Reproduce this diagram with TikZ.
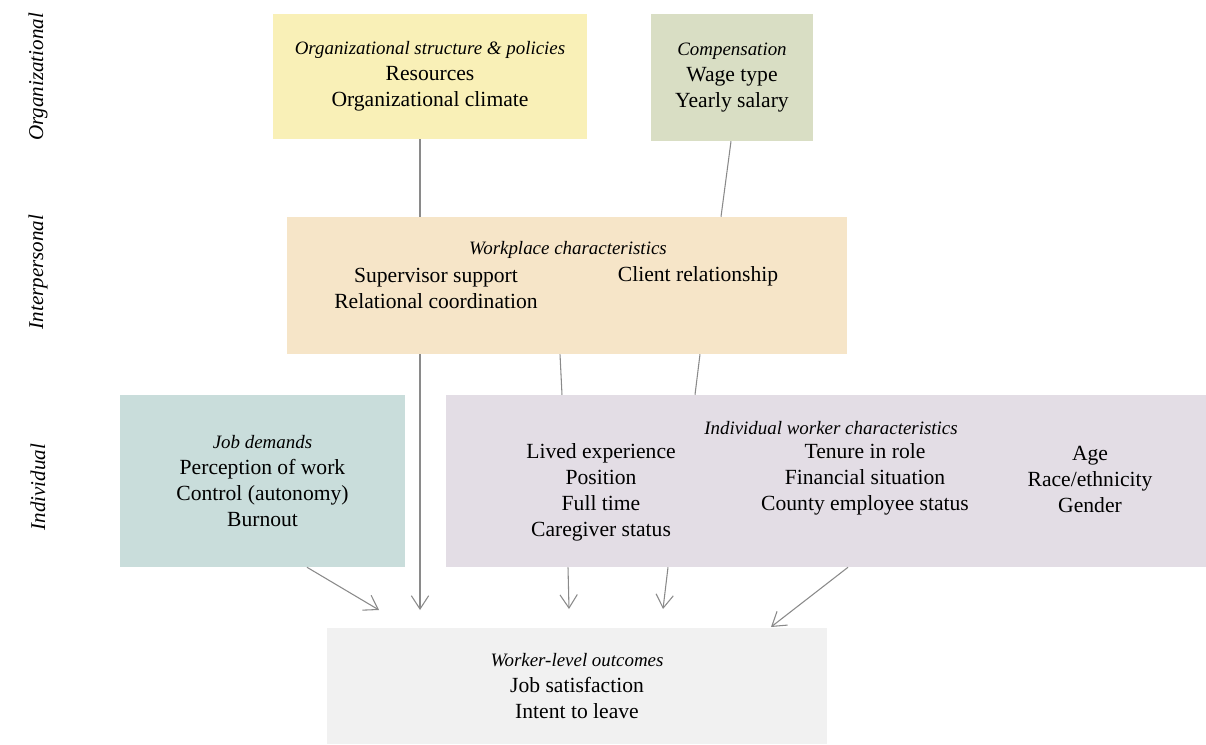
\documentclass[tikz,border=0pt]{standalone}
\usepackage{fontspec}
\setmainfont{Liberation Serif}
\usetikzlibrary{arrows.meta}

\definecolor{orgyellow}{HTML}{F9F0B7}
\definecolor{compgreen}{HTML}{D9DEC4}
\definecolor{workpeach}{HTML}{F6E5C8}
\definecolor{jobteal}{HTML}{C9DDDB}
\definecolor{indivlilac}{HTML}{E3DDE5}
\definecolor{outgray}{HTML}{F1F1F1}
\definecolor{linkgray}{HTML}{8A8A8A}

% italic heading inside a box
\newcommand{\boxtitle}[1]{{\fontsize{14.2}{19.5}\selectfont\itshape #1}}

\tikzset{
  box/.style={inner sep=0pt, align=center, font=\fontsize{16.2}{19.5}\selectfont},
  lbl/.style={inner sep=0pt, align=center, font=\fontsize{16.2}{19.5}\selectfont},
  level/.style={rotate=90, inner sep=0pt, font=\fontsize{15.8}{17}\selectfont\itshape},
  link/.style={draw=linkgray, line width=0.8pt},
  arr/.style={link, -{Straight Barb[length=10pt,width=13pt]}}
}

\begin{document}
\begin{tikzpicture}[x=0.75pt, y=-0.75pt]
    % Fix the page size
    \useasboundingbox (0,0) rectangle (1206,744);

    % Level labels on the left
    \node[level] (lvlorg) at (38,77) {Organizational};
    \node[level] (lvlint) at (38,272) {Interpersonal};
    \node[level] (lvlind) at (38,487) {Individual};

    % Organizational boxes
    \node[box, fill=orgyellow, minimum width=235.5pt, minimum height=93.75pt] (org) at (430,76.5)
      {\boxtitle{Organizational structure \& policies}\\Resources\\Organizational climate};
    \node[box, fill=compgreen, minimum width=121.5pt, minimum height=95.25pt] (comp) at (732,77.5)
      {\boxtitle{Compensation}\\Wage type\\Yearly salary};

    % Interpersonal box
    \node[box, fill=workpeach, minimum width=420pt, minimum height=102.75pt] (work) at (567,285.5) {};
    \node[lbl] (worktitle) at (568,250) {\boxtitle{Workplace characteristics}};
    \node[lbl] (workleft) at (436,288.5) {Supervisor support\\Relational coordination};
    \node[lbl] (workright) at (698,276) {Client relationship};

    % Individual boxes
    \node[box, fill=jobteal, minimum width=213.75pt, minimum height=129pt] (job) at (262.5,481)
      {\boxtitle{Job demands}\\Perception of work\\Control (autonomy)\\Burnout};
    \node[box, fill=indivlilac, minimum width=570pt, minimum height=129pt] (indiv) at (826,481) {};
    \node[lbl] (indivtitle) at (831,428) {\boxtitle{Individual worker characteristics}};
    \node[lbl] (indivcola) at (601,492.5) {Lived experience\\Position\\Full time\\Caregiver status};
    \node[lbl] (indivcolb) at (865,479.5) {Tenure in role\\Financial situation\\County employee status};
    \node[lbl] (indivcolc) at (1090,479.5) {Age\\Race/ethnicity\\Gender};

    % Outcome box
    \node[box, fill=outgray, minimum width=375pt, minimum height=87pt] (out) at (577,686)
      {\boxtitle{Worker-level outcomes}\\Job satisfaction\\Intent to leave};

    % Arrow ends above the outcome box
    \coordinate (tipa) at (379,610);
    \coordinate (tipb) at (420,610);
    \coordinate (tipc) at (569,609);
    \coordinate (tipd) at (663,609);
    \coordinate (tipe) at (771,627);

    % Links between levels
    \draw[link] (org.south -| 420,0) -- (work.north -| 420,0);
    \draw[link] (comp.south -| 731,0) -- (work.north -| 721,0);
    \draw[link] (work.south -| 560,0) -- (indiv.north -| 562,0);
    \draw[link] (work.south -| 700,0) -- (indiv.north -| 695,0);

    % Arrows into the outcomes
    \draw[arr] (work.south -| 420,0) -- (tipb);
    \draw[arr] (job.south -| 307,0) -- (tipa);
    \draw[arr] (indiv.south -| 568,0) -- (tipc);
    \draw[arr] (indiv.south -| 668,0) -- (tipd);
    \draw[arr] (indiv.south -| 848,0) -- (tipe);
\end{tikzpicture}
\end{document}
